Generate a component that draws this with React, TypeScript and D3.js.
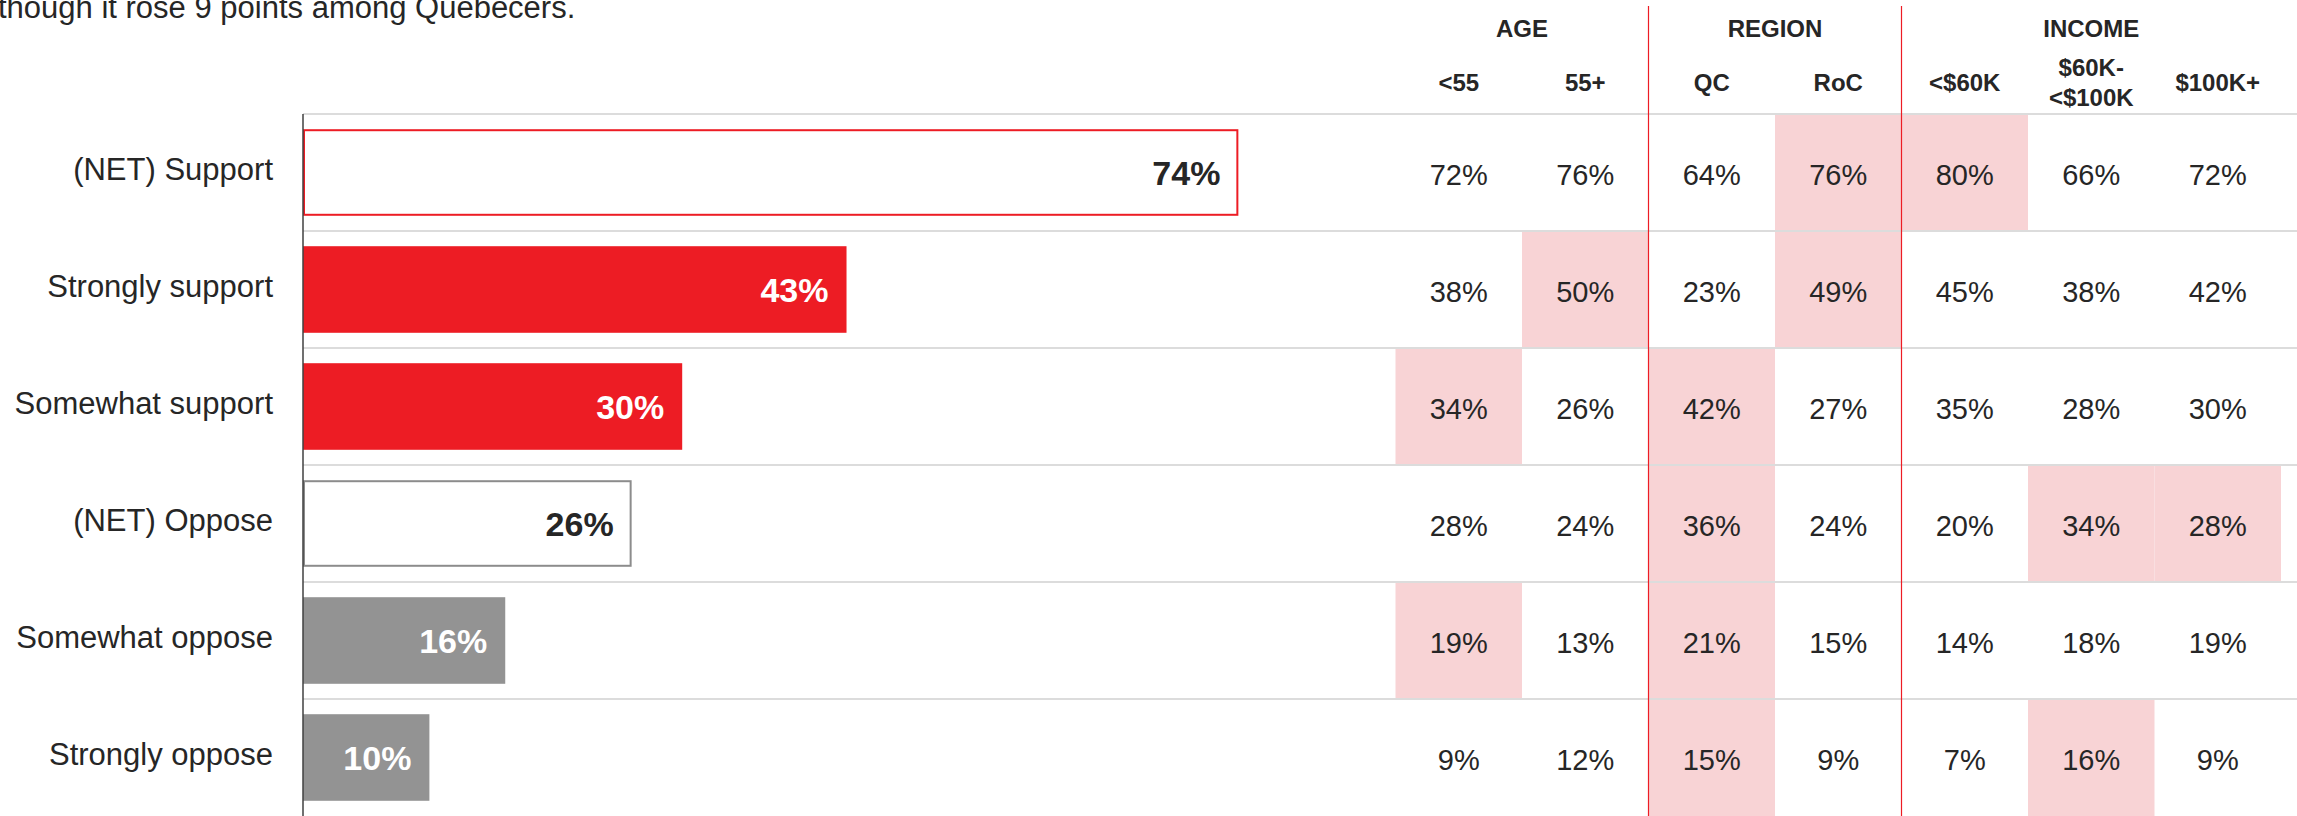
import React from 'react';
import * as d3 from 'd3';

const subtitle = 'though it rose 9 points among Quebecers.';
const categories = ['(NET) Support', 'Strongly support', 'Somewhat support', '(NET) Oppose', 'Somewhat oppose', 'Strongly oppose'];
const totals = [74, 43, 30, 26, 16, 10];
const barKinds = ['outlineRed', 'red', 'red', 'outlineGrey', 'grey', 'grey'];
const groupNames = ['AGE', 'REGION', 'INCOME'];
const columns = ['<55', '55+', 'QC', 'RoC', '<$60K', '$60K-|<$100K', '$100K+'];
const columnGroup = [0, 0, 1, 1, 2, 2, 2];
const tableValues = [
  [72, 76, 64, 76, 80, 66, 72],
  [38, 50, 23, 49, 45, 38, 42],
  [34, 26, 42, 27, 35, 28, 30],
  [28, 24, 36, 24, 20, 34, 28],
  [19, 13, 21, 15, 14, 18, 19],
  [9, 12, 15, 9, 7, 16, 9],
];
const highlights = [
  [0, 0, 0, 1, 1, 0, 0],
  [0, 1, 0, 1, 0, 0, 0],
  [1, 0, 1, 0, 0, 0, 0],
  [0, 0, 1, 0, 0, 1, 1],
  [1, 0, 1, 0, 0, 0, 0],
  [0, 0, 1, 0, 0, 1, 0],
];

const W = 2297;
const H = 816;
const RED = '#ED1C24';
const GREY = '#939393';
const PINK = '#F8D3D5';
const TEXT = '#262626';
const FONT = '"Liberation Sans", Arial, sans-serif';

export default function App() {
  const axisX = 303;
  const x = d3.scaleLinear().domain([0, 100]).range([axisX, axisX + 1264]);
  const yRow = d3.scaleBand<string>().domain(categories).range([114, 816]);
  const yBar = d3.scaleBand<string>().domain(categories).range([114, 816]).paddingInner(0.26).paddingOuter(0.13);
  const xCol = d3.scaleBand<string>().domain(columns).range([1395.5, 2281]);
  const colCenter = (c: string) => (xCol(c) as number) + xCol.bandwidth() / 2;
  const step = yRow.bandwidth();

  const groupCenters = groupNames.map((g, gi) => {
    const cs = columns.filter((_, i) => columnGroup[i] === gi);
    return d3.mean(cs, colCenter) as number;
  });
  const separators = groupNames.slice(1).map((_, gi) => {
    const idx = columnGroup.indexOf(gi + 1);
    return xCol(columns[idx]) as number;
  });

  return (
    <svg width={W} height={H} style={{ position: 'absolute', left: 0, top: 0, display: 'block', background: '#fff' }} fontFamily={FONT}>
      <text x={-2} y={18} fontSize={31} fill={TEXT}>{subtitle}</text>

      {/* highlight cells */}
      {tableValues.map((row, ri) =>
        row.map((v, ci) =>
          highlights[ri][ci] ? (
            <rect key={`h${ri}-${ci}`} x={xCol(columns[ci])} y={yRow(categories[ri])} width={xCol.bandwidth()} height={step} fill={PINK} />
          ) : null
        )
      )}

      {/* grid lines */}
      {categories.map((c) => (
        <line key={`g${c}`} x1={axisX} x2={W} y1={(yRow(c) as number)} y2={(yRow(c) as number)} stroke="#DCDCDC" strokeWidth={2} />
      ))}

      {/* group separators */}
      {separators.map((sx, i) => (
        <line key={`s${i}`} x1={sx} x2={sx} y1={6} y2={H} stroke={RED} strokeWidth={1.2} />
      ))}

      {/* group headers */}
      {groupNames.map((g, gi) => (
        <text key={g} x={groupCenters[gi]} y={37} fontSize={24} fontWeight="bold" fill={TEXT} textAnchor="middle">{g}</text>
      ))}
      {columns.map((c) => {
        const parts = c.split('|');
        const cx = colCenter(c);
        if (parts.length === 1) {
          return <text key={c} x={cx} y={90.5} fontSize={24} fontWeight="bold" fill={TEXT} textAnchor="middle">{c}</text>;
        }
        return (
          <text key={c} x={cx} fontSize={24} fontWeight="bold" fill={TEXT} textAnchor="middle">
            <tspan x={cx} y={76}>{parts[0]}</tspan>
            <tspan x={cx} y={106}>{parts[1]}</tspan>
          </text>
        );
      })}

      {/* table values */}
      {tableValues.map((row, ri) =>
        row.map((v, ci) => (
          <text key={`v${ri}-${ci}`} x={colCenter(columns[ci])} y={(yRow(categories[ri]) as number) + step / 2 + 12} fontSize={29} fill={TEXT} textAnchor="middle">{v}%</text>
        ))
      )}

      {/* bars */}
      {categories.map((c, i) => {
        const kind = barKinds[i];
        const y0 = yBar(c) as number;
        const h = yBar.bandwidth();
        const w = x(totals[i]) - x(0);
        const outline = kind.startsWith('outline');
        const fill = kind === 'red' ? RED : kind === 'grey' ? GREY : '#fff';
        const stroke = kind === 'outlineRed' ? RED : kind === 'outlineGrey' ? '#8C8C8C' : 'none';
        return (
          <g key={`b${c}`}>
            {outline ? (
              <rect x={x(0) + 1} y={y0 + 1} width={w - 2} height={h - 2} fill="#fff" stroke={stroke} strokeWidth={2} />
            ) : (
              <rect x={x(0)} y={y0} width={w} height={h} fill={fill} />
            )}
            <text x={x(totals[i]) - 18} y={y0 + h / 2 + 12.5} fontSize={34} fontWeight="bold" textAnchor="end" fill={outline ? TEXT : '#fff'}>{totals[i]}%</text>
          </g>
        );
      })}

      {/* category labels */}
      {categories.map((c) => (
        <text key={`l${c}`} x={273} y={(yRow(c) as number) + step / 2 + 7} fontSize={31} fill={TEXT} textAnchor="end">{c}</text>
      ))}

      {/* axis */}
      <line x1={axisX} x2={axisX} y1={114} y2={H} stroke="#404040" strokeWidth={1.5} />
    </svg>
  );
}
